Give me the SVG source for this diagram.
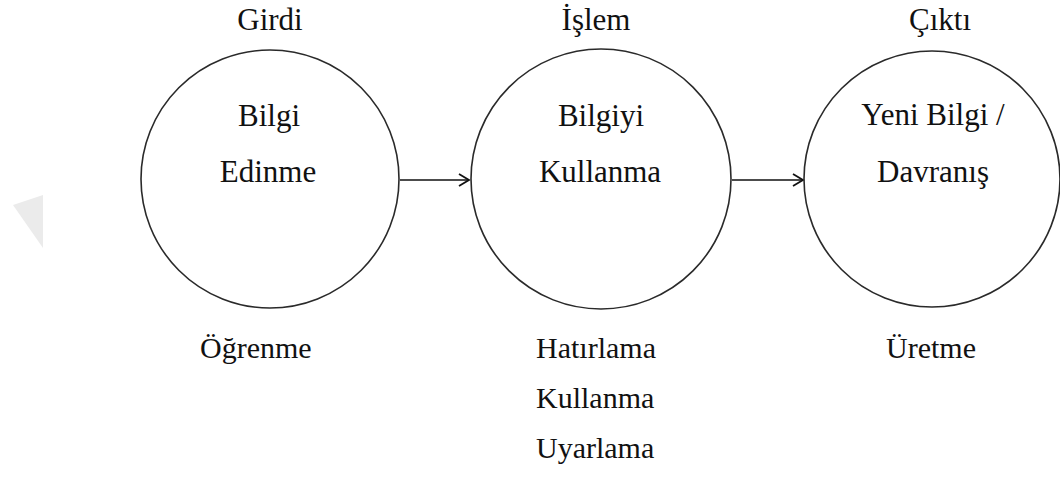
<svg xmlns="http://www.w3.org/2000/svg" width="1060" height="477" viewBox="0 0 1060 477">
<style>
.c{fill:none;stroke:#2a2a2a;stroke-width:1.6}
.t{font-family:"Liberation Serif","Times New Roman",serif;font-size:31px;fill:#111;text-anchor:middle}
.b{font-family:"Liberation Serif","Times New Roman",serif;font-size:30px;fill:#111}
.e{stroke:#111;stroke-width:1.6;fill:none}
</style>
<defs>
<marker id="ah" markerWidth="14" markerHeight="14" refX="12" refY="7" orient="auto" markerUnits="userSpaceOnUse">
<path d="M2,1 L12,7 L2,13" fill="none" stroke="#111" stroke-width="1.8"/>
</marker>
</defs>
<rect width="1060" height="477" fill="#fff"/>
<polygon points="13,205 43,195 43,248" fill="#ebebeb"/>
<g id="connectors">
<line class="e" x1="400" y1="180" x2="469" y2="180" marker-end="url(#ah)"/>
<line class="e" x1="732" y1="180" x2="803" y2="180" marker-end="url(#ah)"/>
</g>
<g id="girdi">
<text class="t" x="270" y="30">Girdi</text>
<circle class="c" cx="270" cy="179" r="129"/>
<text class="t" x="269" y="126">Bilgi</text>
<text class="t" x="268" y="182">Edinme</text>
<text class="b" x="200" y="358">Öğrenme</text>
</g>
<g id="islem">
<text class="t" x="596" y="30">İşlem</text>
<circle class="c" cx="601" cy="179" r="130"/>
<text class="t" x="601" y="126">Bilgiyi</text>
<text class="t" x="600" y="182">Kullanma</text>
<text class="b" x="536" y="358">Hatırlama</text>
<text class="b" x="536" y="408">Kullanma</text>
<text class="b" x="536" y="458">Uyarlama</text>
</g>
<g id="cikti">
<text class="t" x="940" y="30">Çıktı</text>
<circle class="c" cx="932" cy="179" r="128"/>
<text class="t" x="933" y="125">Yeni Bilgi /</text>
<text class="t" x="933" y="182">Davranış</text>
<text class="b" x="886" y="358">Üretme</text>
</g>
</svg>
